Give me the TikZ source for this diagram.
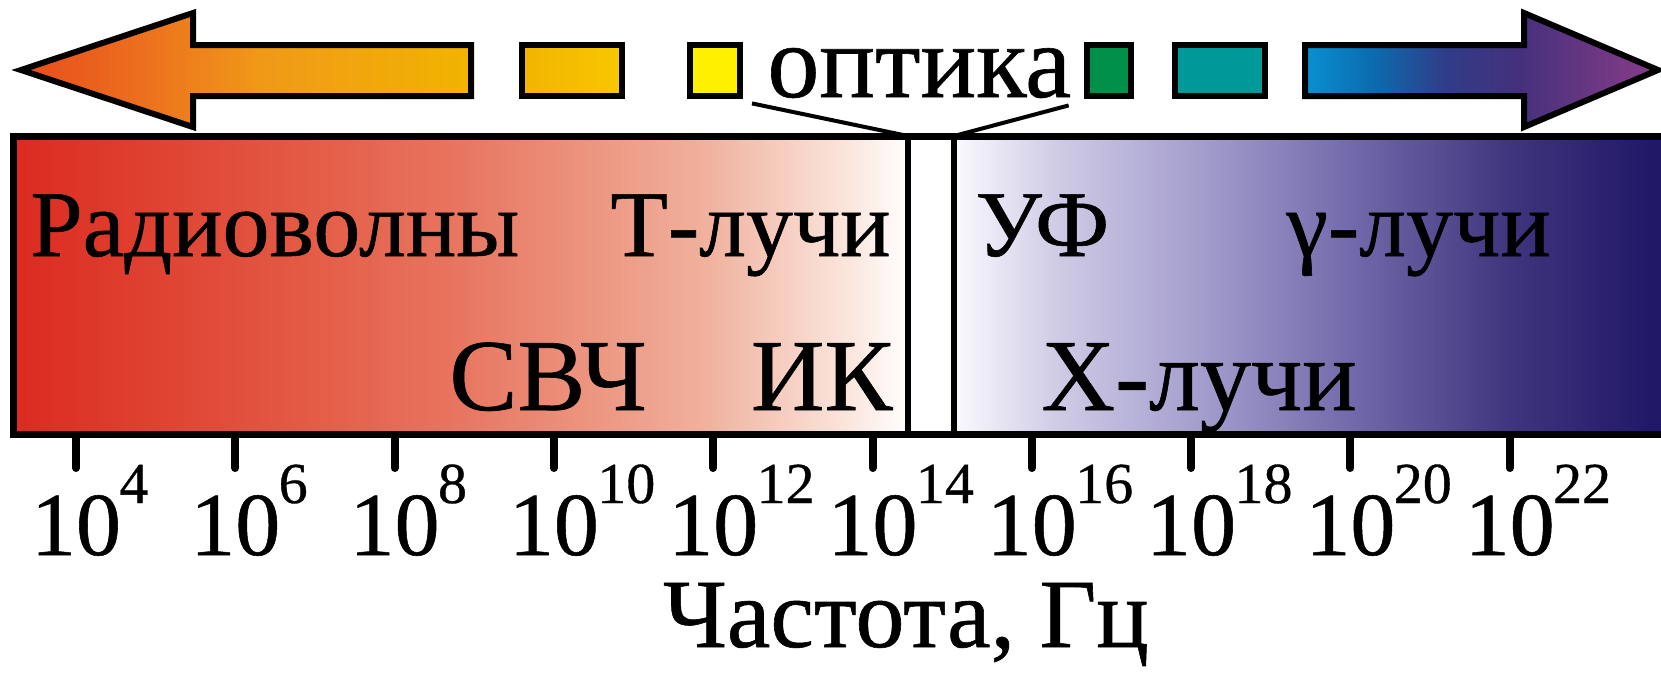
\documentclass[tikz,border=0pt]{standalone}
\usepackage{fontspec}
\setmainfont{Liberation Serif}
\newfontfamily\bandfont[FakeBold=0.6]{Liberation Serif}
\usetikzlibrary{calc}

\definecolor{radiored}{HTML}{DC2A20}
\definecolor{radiowarm}{HTML}{E35A44}
\definecolor{radiomid}{HTML}{E87660}
\definecolor{radiopale}{HTML}{F0B09C}
\definecolor{radiofade}{HTML}{FBE8E0}
\definecolor{uvwhite}{HTML}{FAFAFF}
\definecolor{uvpale}{HTML}{D0CCE6}
\definecolor{uvmid}{HTML}{A29CCC}
\definecolor{xraymid}{HTML}{7068AA}
\definecolor{xraydeep}{HTML}{40367E}
\definecolor{gammadeep}{HTML}{211868}
\definecolor{arrred}{HTML}{E84C1C}
\definecolor{arrflame}{HTML}{EC6E1E}
\definecolor{arrorange}{HTML}{F09A18}
\definecolor{arramber}{HTML}{F2B400}
\definecolor{boxamber}{HTML}{F8C800}
\definecolor{boxyellow}{HTML}{FFF000}
\definecolor{boxgreen}{HTML}{00904A}
\definecolor{boxteal}{HTML}{00999A}
\definecolor{arrblue}{HTML}{0A90D2}
\definecolor{arrdeep}{HTML}{0A6EB0}
\definecolor{arrnavy}{HTML}{303C88}
\definecolor{arrindigo}{HTML}{44307C}
\definecolor{arrplum}{HTML}{8A3C88}

% the path box is mapped onto 25bp..75bp
\pgfdeclarehorizontalshading{radioband}{100bp}{color(0bp)=(radiored); color(25bp)=(radiored);
  color(41bp)=(radiowarm); color(50bp)=(radiomid); color(63.5bp)=(radiopale);
  color(72bp)=(radiofade); color(75bp)=(white); color(100bp)=(white)}
\pgfdeclarehorizontalshading{xrayband}{100bp}{color(0bp)=(uvwhite); color(25bp)=(uvwhite);
  color(32bp)=(uvpale); color(42.5bp)=(uvmid); color(53bp)=(xraymid);
  color(63.5bp)=(xraydeep); color(73.5bp)=(gammadeep); color(100bp)=(gammadeep)}
\pgfdeclarehorizontalshading{warmarrow}{100bp}{color(0bp)=(arrred); color(25bp)=(arrred);
  color(38bp)=(arrflame); color(52bp)=(arrorange); color(75bp)=(arramber); color(100bp)=(arramber)}
\pgfdeclarehorizontalshading{coldarrow}{100bp}{color(0bp)=(arrblue); color(25bp)=(arrblue);
  color(34bp)=(arrdeep); color(45bp)=(arrnavy); color(55bp)=(arrindigo); color(75bp)=(arrplum);
  color(100bp)=(arrplum)}

\tikzset{
  outline/.style={line width=3pt, draw=black, line join=miter},
  bandlbl/.style={font=\bandfont\fontsize{47}{50}\selectfont, anchor=base west, inner sep=0pt},
  biglbl/.style={font=\bandfont\fontsize{51}{54}\selectfont, anchor=base west, inner sep=0pt},
  numlbl/.style={font=\bandfont\fontsize{45}{48}\selectfont, anchor=base, inner sep=0pt},
  explbl/.style={font=\bandfont\fontsize{29}{32}\selectfont, anchor=base west, inner sep=0pt},
  tickmark/.style={line width=4pt, line cap=round},
}

\begin{document}
\begin{tikzpicture}[x=0.5pt, y=-0.5pt]
  \useasboundingbox (0,0) rectangle (1661,681);
  % top arrows and colour boxes
  \shadedraw[outline, shading=warmarrow] (21,70) -- (193,13) -- (193,45) -- (471,45)
    -- (471,96) -- (193,96) -- (193,127) -- cycle;
  \shadedraw[outline, left color=arramber, right color=boxamber] (522,45) rectangle (622,96);
  \draw[outline, fill=boxyellow] (690,45) rectangle (740,96);
  \draw[outline, fill=boxgreen] (1087,45) rectangle (1131,96);
  \draw[outline, fill=boxteal] (1175,45) rectangle (1265,96);
  \shadedraw[outline, shading=coldarrow] (1305,45) -- (1524,45) -- (1524,13) -- (1658,70)
    -- (1524,127) -- (1524,96) -- (1305,96) -- cycle;
  \node[font=\bandfont\fontsize{52}{55}\selectfont, anchor=base west, inner sep=0pt] (opt) at (767,97) {оптика};
  % spectrum band
  \shade[shading=radioband] (13,136) rectangle (908,434);
  \shade[shading=xrayband] (954,136) rectangle (1672,434);
  \draw[outline, line width=3.5pt] (13,136) rectangle (1672,434);
  \coordinate (gapL) at (908,136);
  \coordinate (gapR) at (954,136);
  \draw[outline] (gapL) -- (908,434);
  \draw[outline] (gapR) -- (954,434);
  \draw[line width=2pt] ([shift={(-15,5)}]opt.south west) -- (gapL);
  \draw[line width=2pt] ([shift={(-3,7)}]opt.south east) -- (gapR);
  \node[bandlbl] (radio) at (30,256) {Радиоволны};
  \node[bandlbl, anchor=base east] (tera) at (891,256) {Т-лучи};
  \node[bandlbl] (uv) at (975,256) {УФ};
  \node[bandlbl] (gamma) at (1286,256) {γ-лучи};
  \node[biglbl] (mw) at (449,410) {СВЧ};
  \node[biglbl, anchor=base east] (ir) at (893,410) {ИК};
  \node[biglbl] (xray) at (1041,410) {Х-лучи};
  % frequency scale
  \foreach \e [count=\i from 0] in {4,6,...,22} {
    \draw[tickmark] (76+159.3*\i,436) -- ++(0,32);
    \node[numlbl] (p\e) at (76+159.3*\i,555) {10};
    \node[explbl] (e\e) at (76+159.3*\i+43,503) {\e};
  }
  \node[font=\bandfont\fontsize{49}{52}\selectfont, anchor=base, inner sep=0pt] (freq) at (906,647) {Частота, Гц};
\end{tikzpicture}
\end{document}
